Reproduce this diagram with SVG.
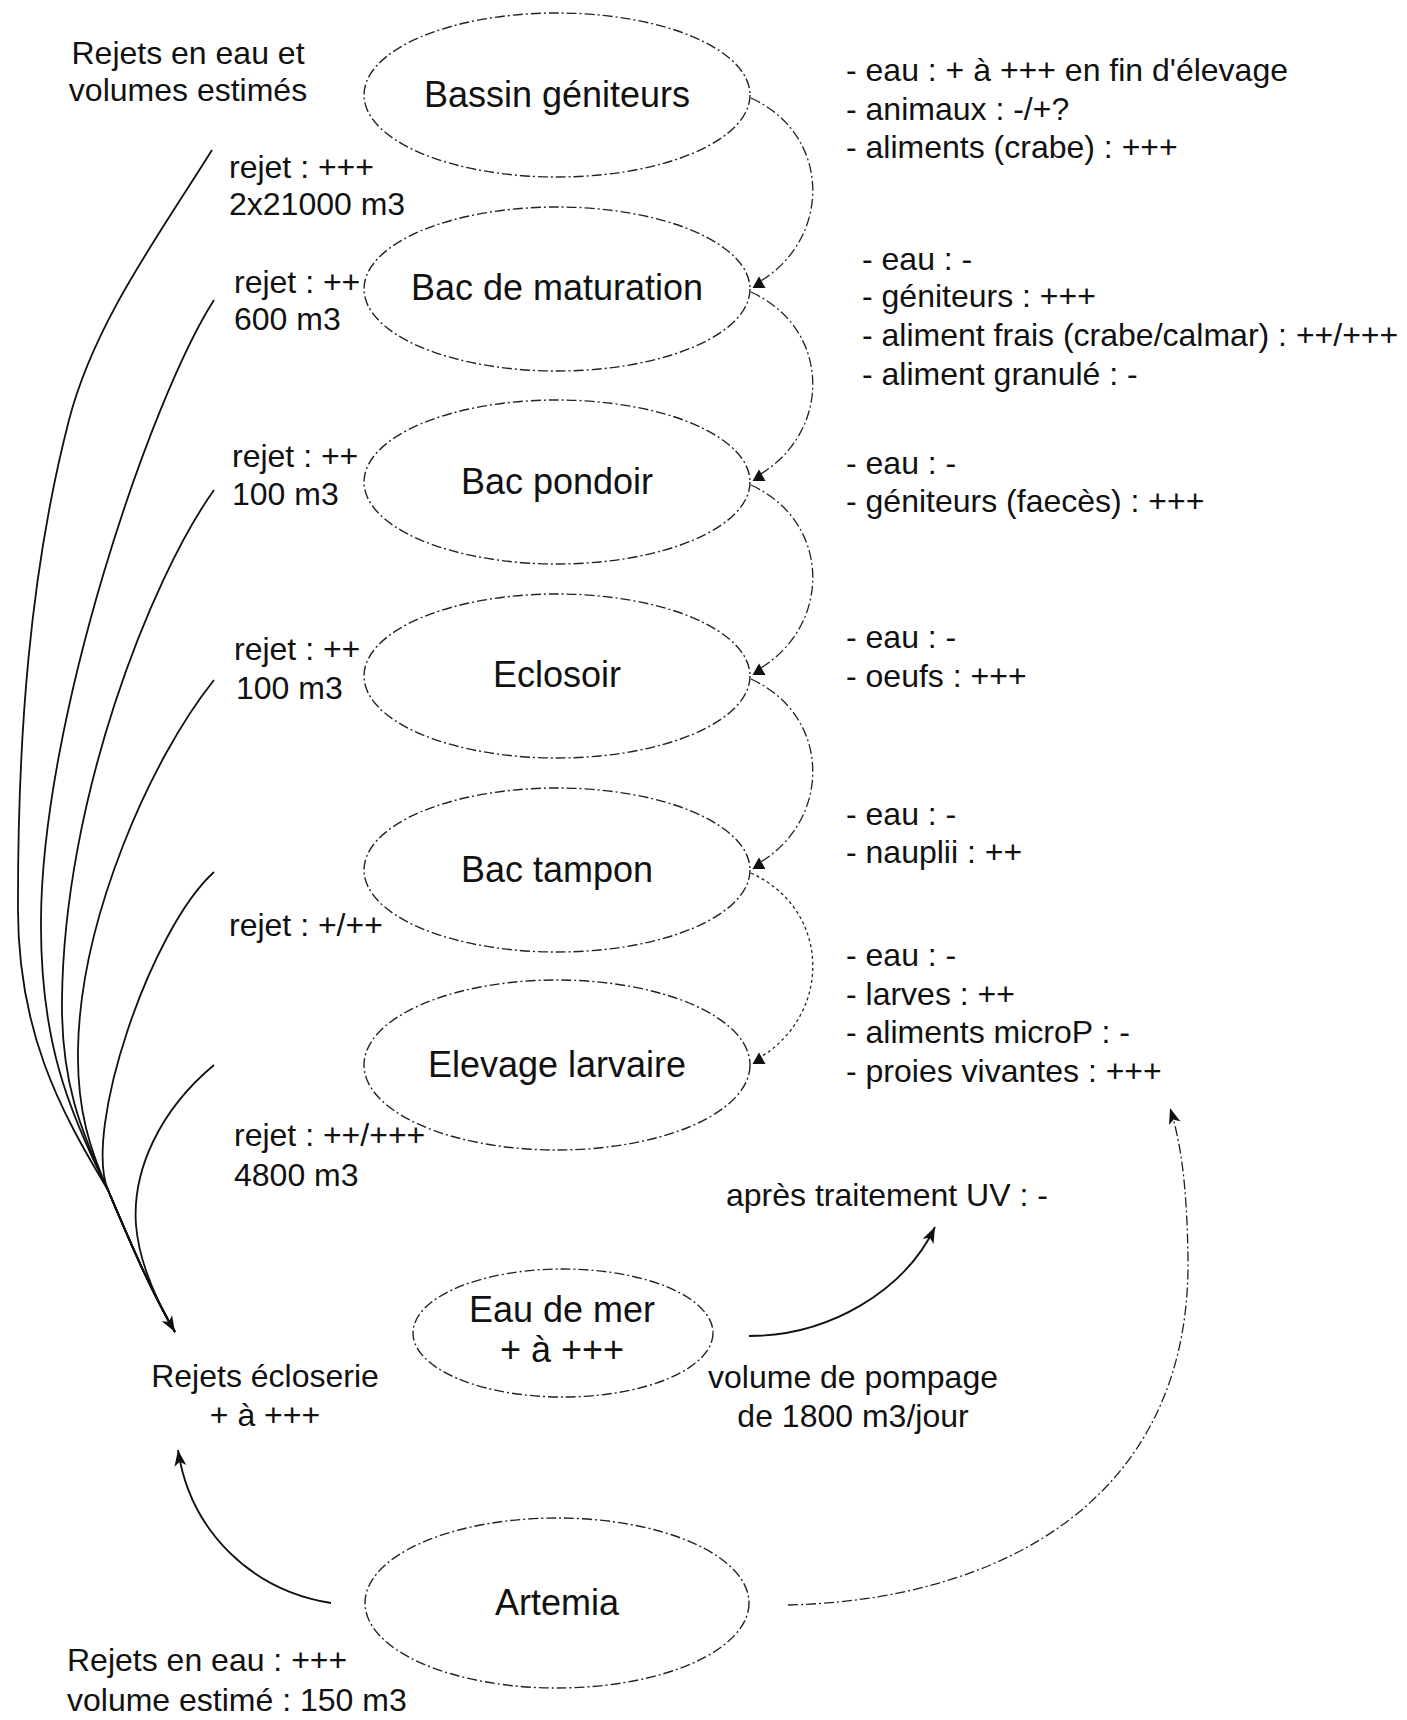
<svg xmlns="http://www.w3.org/2000/svg" width="1407" height="1720" viewBox="0 0 1407 1720">
<style>
text{font-family:"Liberation Sans",Arial,sans-serif;fill:#111}
.lbl{font-size:32px}
.node{font-size:36px;text-anchor:middle}
.mid{text-anchor:middle}
.ell{fill:none;stroke:#222;stroke-width:1.4;stroke-dasharray:10 3 2 3}
.arc{fill:none;stroke:#222;stroke-width:1.3;stroke-dasharray:10 3 2 3}
.dot{fill:none;stroke:#222;stroke-width:1.3;stroke-dasharray:3 3}
.sol{fill:none;stroke:#111;stroke-width:1.8}
</style>
<defs>
<marker id="tri" markerUnits="userSpaceOnUse" markerWidth="14" markerHeight="14" viewBox="0 -7 12 14" refX="6" refY="0" orient="270">
<path d="M0,-6.5 L11.5,0 L0,6.5 z" fill="#111"/>
</marker>
<marker id="arr" markerUnits="userSpaceOnUse" markerWidth="18" markerHeight="14" viewBox="0 -7 16 14" refX="16" refY="0" orient="auto">
<path d="M0,-6 L16,0 L0,6 L4,0 z" fill="#111"/>
</marker>
</defs>

<g id="node-bassin"><ellipse class="ell" cx="557" cy="95" rx="193" ry="82"/><text class="node" x="557" y="107">Bassin géniteurs</text></g>
<g id="node-maturation"><ellipse class="ell" cx="557" cy="289" rx="193" ry="82"/><text class="node" x="557" y="300">Bac de maturation</text></g>
<g id="node-pondoir"><ellipse class="ell" cx="557" cy="482" rx="193" ry="82"/><text class="node" x="557" y="494">Bac pondoir</text></g>
<g id="node-eclosoir"><ellipse class="ell" cx="557" cy="676" rx="193" ry="82"/><text class="node" x="557" y="687">Eclosoir</text></g>
<g id="node-tampon"><ellipse class="ell" cx="557" cy="870" rx="193" ry="82"/><text class="node" x="557" y="882">Bac tampon</text></g>
<g id="node-elevage"><ellipse class="ell" cx="557" cy="1065" rx="193" ry="85"/><text class="node" x="557" y="1077">Elevage larvaire</text></g>
<g id="node-eaudemer"><ellipse class="ell" cx="563" cy="1333" rx="150" ry="64"/><text class="node" x="562" y="1322">Eau de mer</text><text class="node" x="562" y="1362">+ à +++</text></g>
<g id="node-artemia"><ellipse class="ell" cx="557" cy="1603" rx="192" ry="85"/><text class="node" x="557" y="1615">Artemia</text></g>

<g id="node-rejets-ecloserie"><text class="lbl mid" x="265" y="1387">Rejets écloserie</text><text class="lbl mid" x="265" y="1426">+ à +++</text></g>

<g id="labels-left" class="lbl">
<text class="mid" x="188" y="64">Rejets en eau et</text>
<text class="mid" x="188" y="101">volumes estimés</text>
<text x="229" y="178">rejet : +++</text>
<text x="229" y="215">2x21000 m3</text>
<text x="234" y="293">rejet : ++</text>
<text x="234" y="330">600 m3</text>
<text x="232" y="467">rejet : ++</text>
<text x="232" y="505">100 m3</text>
<text x="234" y="660">rejet : ++</text>
<text x="236" y="699">100 m3</text>
<text x="229" y="936">rejet : +/++</text>
<text x="234" y="1146">rejet : ++/+++</text>
<text x="234" y="1186">4800 m3</text>
<text x="67" y="1671">Rejets en eau : +++</text>
<text x="67" y="1711">volume estimé : 150 m3</text>
</g>

<g id="labels-right" class="lbl">
<text x="846" y="81">- eau : + à +++ en fin d'élevage</text>
<text x="846" y="120">- animaux : -/+?</text>
<text x="846" y="158">- aliments (crabe) : +++</text>
<text x="862" y="270">- eau : -</text>
<text x="862" y="307">- géniteurs : +++</text>
<text x="862" y="346">- aliment frais (crabe/calmar) : ++/+++</text>
<text x="862" y="385">- aliment granulé : -</text>
<text x="846" y="474">- eau : -</text>
<text x="846" y="512">- géniteurs (faecès) : +++</text>
<text x="846" y="648">- eau : -</text>
<text x="846" y="687">- oeufs : +++</text>
<text x="846" y="825">- eau : -</text>
<text x="846" y="863">- nauplii : ++</text>
<text x="846" y="966">- eau : -</text>
<text x="846" y="1005">- larves : ++</text>
<text x="846" y="1043">- aliments microP : -</text>
<text x="846" y="1082">- proies vivantes : +++</text>
<text x="726" y="1206">après traitement UV : -</text>
<text class="mid" x="853" y="1388">volume de pompage</text>
<text class="mid" x="853" y="1427">de 1800 m3/jour</text>
</g>

<g id="connectors">
<path class="arc" marker-end="url(#tri)" d="M751,98 C832,135 832,239 759,282"/>
<path class="arc" marker-end="url(#tri)" d="M751,292 C832,329 832,432 759,475"/>
<path class="arc" marker-end="url(#tri)" d="M751,485 C832,522 832,626 759,669"/>
<path class="arc" marker-end="url(#tri)" d="M751,679 C832,716 832,820 759,863"/>
<path class="dot" marker-end="url(#tri)" d="M751,873 C832,910 832,1015 759,1058"/>

<path class="sol" d="M212,150 C159,235 94,323 69,420 C29,575 18,740 18,900 C16,1030 60,1110 108,1190 C125,1230 150,1290 175,1332"/>
<path class="sol" d="M214,300 C150,400 42,720 41,920 C40,1040 68,1110 108,1190 C125,1230 150,1290 175,1332"/>
<path class="sol" d="M214,490 C150,580 64,800 62,1000 C61,1080 80,1130 108,1190 C125,1230 150,1290 175,1332"/>
<path class="sol" d="M214,680 C150,760 80,920 78,1050 C77,1110 90,1150 108,1190 C125,1230 150,1290 175,1332"/>
<path class="sol" d="M214,872 C150,930 83,1130 108,1190 C125,1230 150,1290 175,1332"/>
<path class="sol" marker-end="url(#arr)" d="M214,1065 C160,1110 132,1170 136,1225 C139,1262 155,1298 175,1332"/>

<path class="sol" marker-end="url(#arr)" d="M749,1336 C830,1336 905,1290 935,1227"/>
<path class="arc" marker-end="url(#arr)" d="M788,1605 C1000,1600 1190,1500 1188,1260 C1187,1180 1180,1140 1170,1108"/>
<path class="sol" marker-end="url(#arr)" d="M331,1603 C250,1590 190,1530 178,1450"/>
</g>
</svg>
